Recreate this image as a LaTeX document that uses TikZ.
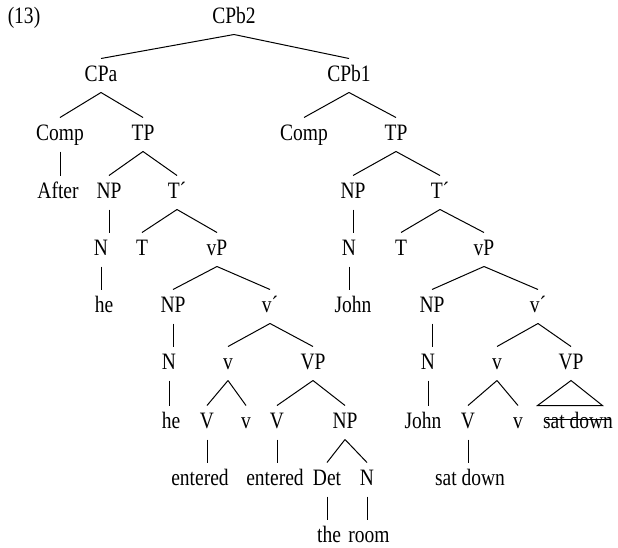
\documentclass[tikz,border=0pt]{standalone}
\usepackage{fontspec}
\setmainfont{Liberation Serif}[FakeStretch=0.83]
\usepackage{tikz}

\tikzset{lbl/.style={anchor=base,text height=16pt,text depth=5pt,inner xsep=1pt,inner ysep=6pt}}

\begin{document}
\begin{tikzpicture}[x=1pt,y=-1pt,line width=1pt,font=\fontsize{23.5}{26}\selectfont]
	  \useasboundingbox (0,0) rectangle (618,547);
	  % top rows
	  \node (ex) [lbl] at (24,23) {(13)};
	  \node (CPb2) [lbl] at (234,23) {CPb2};
	  \node (CPa) [lbl] at (101,81) {CPa};
	  \node (CPb1) [lbl] at (349,81) {CPb1};
	  \node (CompA) [lbl] at (60,140) {Comp};
	  \node (TPa) [lbl] at (143,140) {TP};
	  \node (CompB) [lbl] at (304,140) {Comp};
	  \node (TPb) [lbl] at (396,140) {TP};
	  \node (After) [lbl] at (58,198) {After};
	  \node (NPa) [lbl] at (109,198) {NP};
	  \node (Tba) [lbl] at (177,198) {T´};
	  \node (NPb) [lbl] at (353,198) {NP};
	  \node (Tbb) [lbl] at (440,198) {T´};
	  % middle rows
	  \node (Na) [lbl] at (101,255) {N};
	  \node (Ta) [lbl] at (142,255) {T};
	  \node (vPa) [lbl] at (217,255) {vP};
	  \node (Nb) [lbl] at (349,255) {N};
	  \node (Tb) [lbl] at (401,255) {T};
	  \node (vPb) [lbl] at (484,255) {vP};
	  \node (hea) [lbl] at (104,312) {he};
	  \node (NPa2) [lbl] at (173,312) {NP};
	  \node (vba) [lbl] at (270,312) {v´};
	  \node (Johnb) [lbl] at (353,312) {John};
	  \node (NPb2) [lbl] at (432,312) {NP};
	  \node (vbb) [lbl] at (538,312) {v´};
	  \node (Na2) [lbl] at (169,369) {N};
	  \node (va) [lbl] at (228,369) {v};
	  \node (VPa) [lbl] at (313,369) {VP};
	  \node (Nb2) [lbl] at (428,369) {N};
	  \node (vb) [lbl] at (497,369) {v};
	  \node (VPb) [lbl] at (571,369) {VP};
	  % bottom rows
	  \node (hea2) [lbl] at (171,428) {he};
	  \node (Va) [lbl] at (207,428) {V};
	  \node (va2) [lbl] at (246,428) {v};
	  \node (Va2) [lbl] at (277,428) {V};
	  \node (NPa3) [lbl] at (345,428) {NP};
	  \node (Johnb2) [lbl] at (423,428) {John};
	  \node (Vb) [lbl] at (468,428) {V};
	  \node (vb2) [lbl] at (518,428) {v};
	  \node (satb) [lbl] at (578,428) {sat down};
	  \node (entA) [lbl] at (200,485) {entered};
	  \node (entB) [lbl] at (275,485) {entered};
	  \node (Det) [lbl] at (327,485) {Det};
	  \node (Nroom) [lbl] at (367,485) {N};
	  \node (satb2) [lbl] at (470,485) {sat down};
	  \node (the) [lbl] at (329,542) {the};
	  \node (room) [lbl] at (369,542) {room};

	  % branches
	  \draw (CPb2.south) -- (CPa.north) (CPb2.south) -- (CPb1.north);
	  \draw (CPa.south) -- (CompA.north) (CPa.south) -- (TPa.north);
	  \draw (CPb1.south) -- (CompB.north) (CPb1.south) -- (TPb.north);
	  \draw (CompA.south) -- (CompA.south |- After.north);
	  \draw (TPa.south) -- (NPa.north) (TPa.south) -- (Tba.north);
	  \draw (TPb.south) -- (NPb.north) (TPb.south) -- (Tbb.north);
	  \draw (NPa.south) -- (NPa.south |- Na.north);
	  \draw (Na.south) -- (Na.south |- hea.north);
	  \draw (Tba.south) -- (Ta.north) (Tba.south) -- (vPa.north);
	  \draw (vPa.south) -- (NPa2.north) (vPa.south) -- (vba.north);
	  \draw (NPa2.south) -- (NPa2.south |- Na2.north);
	  \draw (Na2.south) -- (Na2.south |- hea2.north);
	  \draw (vba.south) -- (va.north) (vba.south) -- (VPa.north);
	  \draw (va.south) -- (Va.north) (va.south) -- (va2.north);
	  \draw (VPa.south) -- (Va2.north) (VPa.south) -- (NPa3.north);
	  \draw (Va.south) -- (Va.south |- entA.north);
	  \draw (Va2.south) -- (Va2.south |- entB.north);
	  \draw (NPa3.south) -- (Det.north) (NPa3.south) -- (Nroom.north);
	  \draw (Det.south) -- (Det.south |- the.north);
	  \draw (Nroom.south) -- (Nroom.south |- room.north);
	  \draw (NPb.south) -- (NPb.south |- Nb.north);
	  \draw (Nb.south) -- (Nb.south |- Johnb.north);
	  \draw (Tbb.south) -- (Tb.north) (Tbb.south) -- (vPb.north);
	  \draw (vPb.south) -- (NPb2.north) (vPb.south) -- (vbb.north);
	  \draw (NPb2.south) -- (NPb2.south |- Nb2.north);
	  \draw (Nb2.south) -- (Nb2.south |- Johnb2.north);
	  \draw (vbb.south) -- (vb.north) (vbb.south) -- (VPb.north);
	  \draw (vb.south) -- (Vb.north) (vb.south) -- (vb2.north);
	  \draw (Vb.south) -- (Vb.south |- satb2.north);
	  % triangle and struck-out copy
	  \draw (VPb.south) -- ([xshift=-4pt]satb.north west) -- ([xshift=-12pt]satb.north east) -- cycle;
	  \draw ([xshift=4pt,yshift=9pt]satb.base west) -- ([xshift=-4pt,yshift=9pt]satb.base east);
	\end{tikzpicture}
\end{document}
